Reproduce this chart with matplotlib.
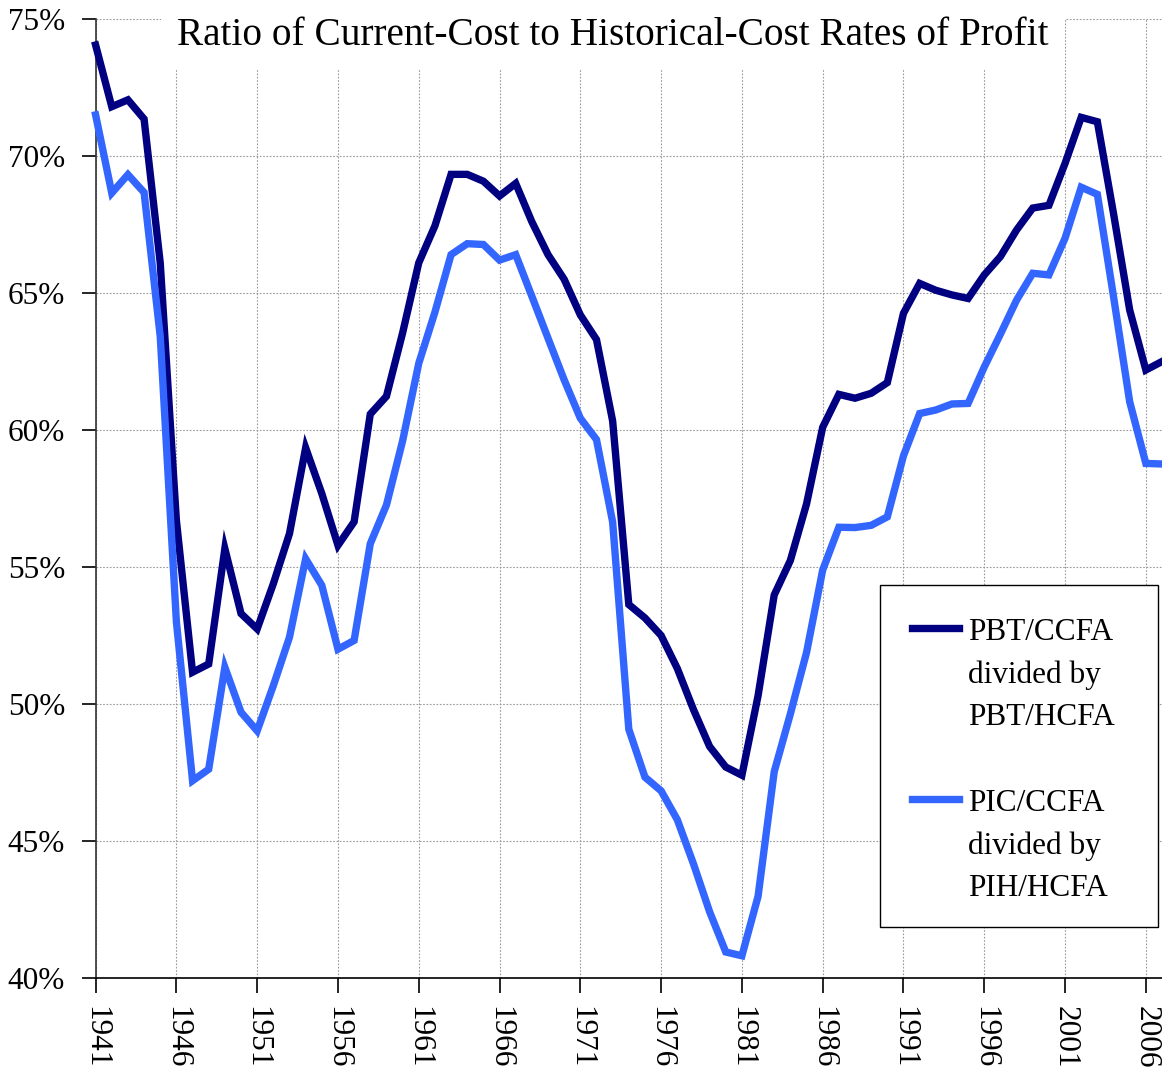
import numpy as np
import matplotlib
matplotlib.use("Agg")
import matplotlib.pyplot as plt
from matplotlib.lines import Line2D
from matplotlib.patches import Rectangle

plt.rcParams['font.family'] = ['Liberation Serif', 'DejaVu Serif']

# data
years = list(range(1941, 2008))
pbt_ratio = [
    74.05, 71.8, 72.05, 71.35, 66.1, 56.7, 51.16, 51.46, 55.67, 53.3,
    52.74, 54.39, 56.22, 59.35, 57.68, 55.79, 56.65, 60.58, 61.23, 63.54,
    66.1, 67.45, 69.33, 69.33, 69.08, 68.54, 69.0, 67.6, 66.4, 65.5,
    64.2, 63.3, 60.33, 53.63, 53.14, 52.5, 51.3, 49.8, 48.45, 47.7,
    47.4, 50.3, 53.98, 55.24, 57.3, 60.1, 61.3, 61.16, 61.34, 61.73,
    64.26, 65.35, 65.1, 64.93, 64.8, 65.66, 66.33, 67.3, 68.1, 68.2,
    69.73, 71.41, 71.25, 67.9, 64.38, 62.19, 62.5,
]
pic_ratio = [
    71.5, 68.65, 69.32, 68.67, 63.42, 53.0, 47.2, 47.62, 51.34, 49.7,
    49.02, 50.67, 52.44, 55.3, 54.33, 52.0, 52.32, 55.85, 57.26, 59.6,
    62.43, 64.3, 66.4, 66.8, 66.77, 66.2, 66.4, 64.88, 63.35, 61.83,
    60.43, 59.65, 56.64, 49.08, 47.33, 46.83, 45.78, 44.17, 42.42, 40.95,
    40.81, 42.98, 47.53, 49.64, 51.88, 54.89, 56.45, 56.44, 56.52, 56.83,
    59.06, 60.6, 60.73, 60.95, 60.97, 62.3, 63.5, 64.74, 65.72, 65.66,
    67.0, 68.86, 68.6, 64.87, 61.03, 58.78, 58.76,
]
labels = ["PBT/CCFA\ndivided by\nPBT/HCFA", "PIC/CCFA\ndivided by\nPIH/HCFA"]
colors = ["#000080", "#3366FF"]
title = "Ratio of Current-Cost to Historical-Cost Rates of Profit"

fig = plt.figure(figsize=(11.62, 10.71), dpi=100)
ax = fig.add_axes([95.6 / 1162, 1 - 978 / 1071, (1162 - 95.6) / 1162, (978 - 19) / 1071])

ax.plot(years, pbt_ratio, color=colors[0], lw=5.3, solid_joinstyle='miter', zorder=3, clip_on=False)
ax.plot(years, pic_ratio, color=colors[1], lw=5.3, solid_joinstyle='miter', zorder=3, clip_on=False)

ax.set_xlim(1941, 2007)
ax.set_ylim(40, 75)
ax.set_xticks(np.arange(1941, 2007, 5))
ax.set_yticks(np.arange(40, 76, 5))
ax.set_yticklabels([f"{v}%" for v in range(40, 76, 5)])
ax.tick_params(axis='y', direction='out', length=10, width=1.2, pad=12, labelsize=22.5)
ax.tick_params(axis='x', direction='out', length=11, width=1.2, pad=9, labelsize=22.5,
               labelrotation=-90)
for lab in ax.get_xticklabels():
    lab.set_va('top')

ax.grid(True, color='#999999', linestyle=(0, (1.5, 1.5)), linewidth=0.8)
ax.set_axisbelow(True)
for s in ['top', 'right']:
    ax.spines[s].set_visible(False)
ax.spines['left'].set_linewidth(1.2)
ax.spines['bottom'].set_linewidth(1.2)
ax.spines['left'].set_color('#333333')

ax.text(0.485, 0.973, title, transform=ax.transAxes, ha='center', va='baseline',
        fontsize=28.3, zorder=5,
        bbox=dict(boxstyle='square,pad=0.42', facecolor='white', edgecolor='none'))

# hand-made legend box
ax.add_patch(Rectangle((0.7356, 0.0532), 0.2607, 0.3566, transform=ax.transAxes,
                       facecolor='white', edgecolor='black', lw=1.0, zorder=6))
for i, (lab, c) in enumerate(zip(labels, colors)):
    yy = 0.365 - i * 0.1783
    ax.add_line(Line2D([0.766, 0.810], [yy, yy], transform=ax.transAxes,
                       color=c, lw=5.3, zorder=7))
    ax.text(0.818, yy + 0.010, lab, transform=ax.transAxes, ha='left', va='top',
            fontsize=22.5, linespacing=1.58, zorder=7)

fig.savefig("out.png", dpi=100)
